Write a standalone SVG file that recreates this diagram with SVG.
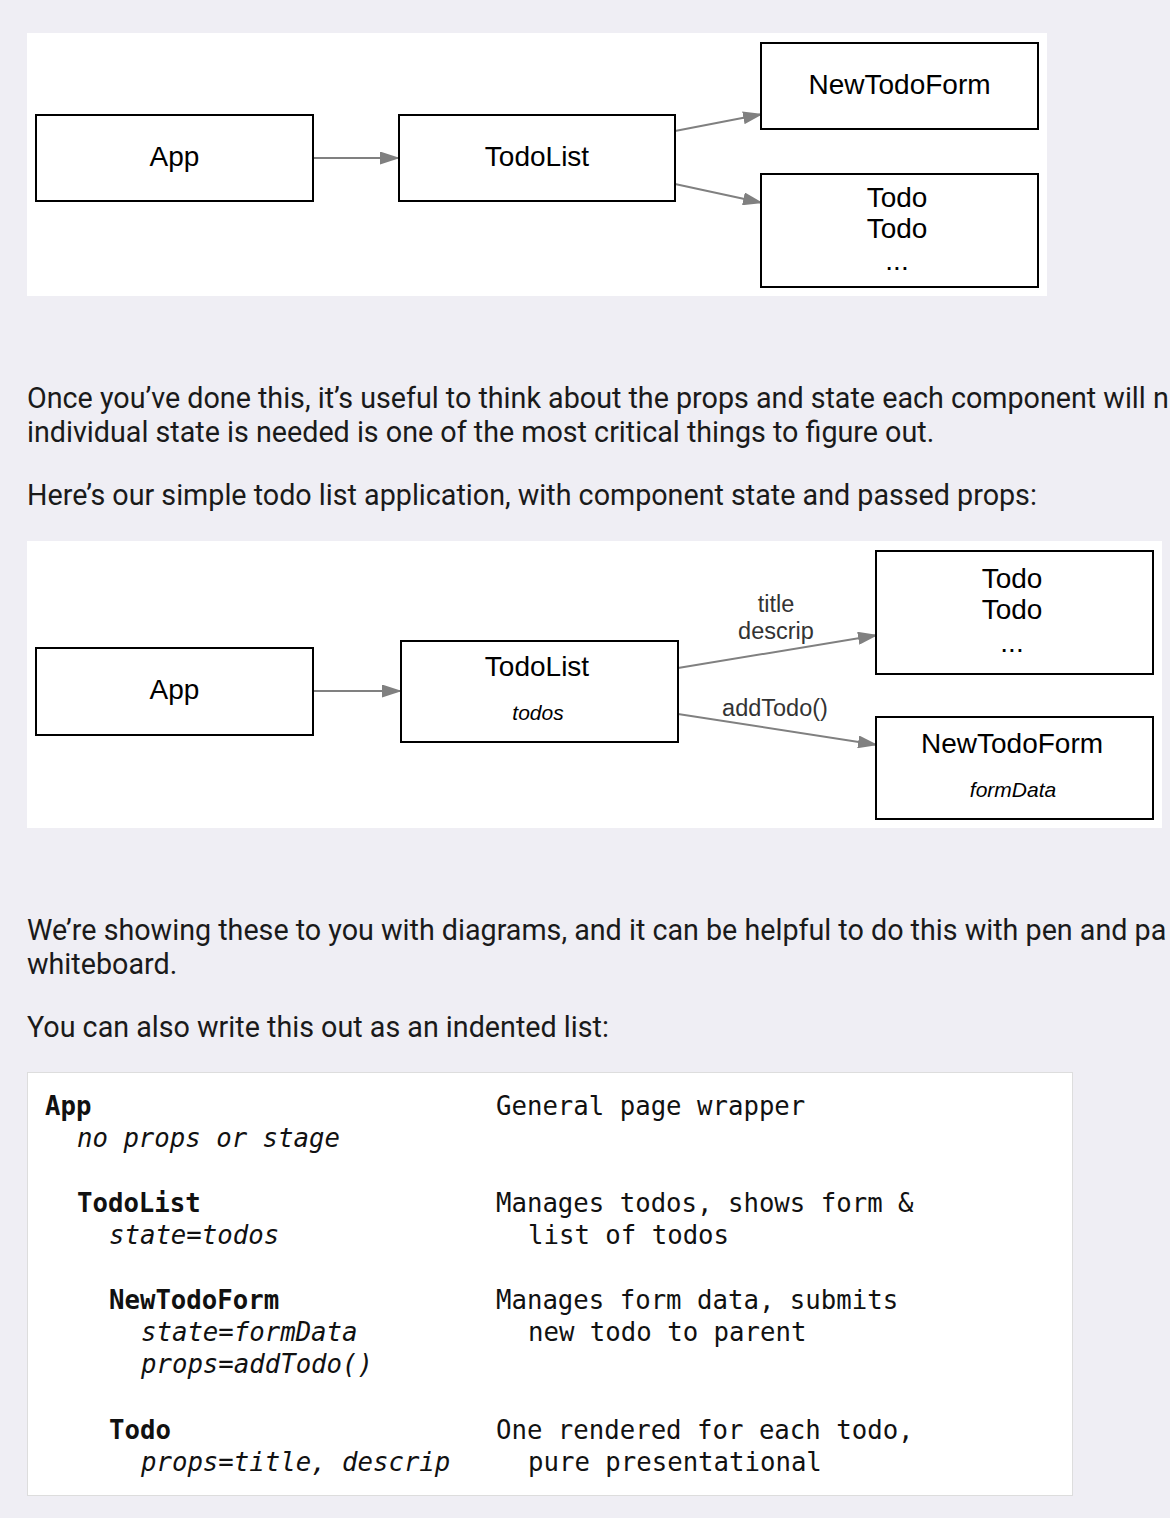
<svg xmlns="http://www.w3.org/2000/svg" width="1170" height="1518" viewBox="0 0 1170 1518">
<defs>
<marker id="ah" markerWidth="20" markerHeight="13" refX="20" refY="6.5" orient="auto" markerUnits="userSpaceOnUse" viewBox="0 0 20 13">
<path d="M0,0 L20,6.5 L0,13 Z" fill="#808080"/>
</marker>
<style>
.bg{fill:#efeef4}
.panel{fill:#ffffff}
.box{fill:#ffffff;stroke:#000000;stroke-width:2}
.edge{stroke:#808080;stroke-width:2;fill:none}
.nt{font-family:"Liberation Sans",Arial,sans-serif;font-size:28px;fill:#000000;text-anchor:middle}
.st{font-family:"Liberation Sans",Arial,sans-serif;font-size:21px;font-style:italic;fill:#000000;text-anchor:middle}
.el{font-family:"Liberation Sans",Arial,sans-serif;font-size:23.5px;fill:#333333;text-anchor:middle}
.p{font-family:Roboto,"Noto Sans",sans-serif;font-size:28.7px;fill:#1a1a1a}
.code{font-family:"DejaVu Sans Mono","Liberation Mono",monospace;font-size:25.7px;fill:#111111}
.b{font-weight:bold}
.i{font-style:italic}
</style>
</defs>
<rect class="bg" x="0" y="0" width="1170" height="1518"/>

<!-- Diagram 1 -->
<rect class="panel" x="27" y="33" width="1020" height="263"/>
<g id="d1-connectors">
<line class="edge" x1="313" y1="158" x2="400" y2="158" marker-end="url(#ah)"/>
<line class="edge" x1="675" y1="131" x2="763" y2="114" marker-end="url(#ah)"/>
<line class="edge" x1="675" y1="184" x2="763" y2="203" marker-end="url(#ah)"/>
</g>
<g id="d1-app"><rect class="box" x="36" y="115" width="277" height="86"/><text class="nt" x="174.5" y="166">App</text></g>
<g id="d1-todolist"><rect class="box" x="399" y="115" width="276" height="86"/><text class="nt" x="537" y="166">TodoList</text></g>
<g id="d1-newtodoform"><rect class="box" x="761" y="43" width="277" height="86"/><text class="nt" x="899.5" y="94">NewTodoForm</text></g>
<g id="d1-todo"><rect class="box" x="761" y="174" width="277" height="113"/><text class="nt" x="897" y="207">Todo</text><text class="nt" x="897" y="238">Todo</text><text class="nt" x="897" y="270">...</text></g>

<text class="p" x="27" y="408">Once you’ve done this, it’s useful to think about the props and state each component will n</text>
<text class="p" x="27" y="442">individual state is needed is one of the most critical things to figure out.</text>
<text class="p" x="27" y="505">Here’s our simple todo list application, with component state and passed props:</text>

<!-- Diagram 2 -->
<rect class="panel" x="27" y="541" width="1135" height="287"/>
<g id="d2-connectors">
<line class="edge" x1="313" y1="691" x2="402" y2="691" marker-end="url(#ah)"/>
<line class="edge" x1="678" y1="668" x2="878" y2="635" marker-end="url(#ah)"/>
<line class="edge" x1="678" y1="714" x2="878" y2="745" marker-end="url(#ah)"/>
<text class="el" x="776" y="612">title</text>
<text class="el" x="776" y="639">descrip</text>
<text class="el" x="775" y="716">addTodo()</text>
</g>
<g id="d2-app"><rect class="box" x="36" y="648" width="277" height="87"/><text class="nt" x="174.5" y="699">App</text></g>
<g id="d2-todolist"><rect class="box" x="401" y="641" width="277" height="101"/><text class="nt" x="537" y="676">TodoList</text><text class="st" x="538" y="720">todos</text></g>
<g id="d2-todo"><rect class="box" x="876" y="551" width="277" height="123"/><text class="nt" x="1012" y="588">Todo</text><text class="nt" x="1012" y="619">Todo</text><text class="nt" x="1012" y="652">...</text></g>
<g id="d2-newtodoform"><rect class="box" x="876" y="717" width="277" height="102"/><text class="nt" x="1012" y="753">NewTodoForm</text><text class="st" x="1013" y="797">formData</text></g>

<text class="p" x="27" y="940">We’re showing these to you with diagrams, and it can be helpful to do this with pen and pa</text>
<text class="p" x="27" y="974">whiteboard.</text>
<text class="p" x="27" y="1037">You can also write this out as an indented list:</text>

<!-- Code block -->
<rect x="27.5" y="1072.5" width="1045" height="423" fill="#ffffff" stroke="#dddddd" stroke-width="1"/>
<g id="code">
<text class="code b" x="45" y="1115">App</text>
<text class="code i" x="77" y="1147">no props or stage</text>
<text class="code b" x="77" y="1212">TodoList</text>
<text class="code i" x="109" y="1244">state=todos</text>
<text class="code b" x="109" y="1309">NewTodoForm</text>
<text class="code i" x="141" y="1341">state=formData</text>
<text class="code i" x="141" y="1373">props=addTodo()</text>
<text class="code b" x="109" y="1439">Todo</text>
<text class="code i" x="141" y="1471">props=title, descrip</text>
<text class="code" x="496" y="1115">General page wrapper</text>
<text class="code" x="496" y="1212">Manages todos, shows form &amp;</text>
<text class="code" x="528" y="1244">list of todos</text>
<text class="code" x="496" y="1309">Manages form data, submits</text>
<text class="code" x="528" y="1341">new todo to parent</text>
<text class="code" x="496" y="1439">One rendered for each todo,</text>
<text class="code" x="528" y="1471">pure presentational</text>
</g>
</svg>
